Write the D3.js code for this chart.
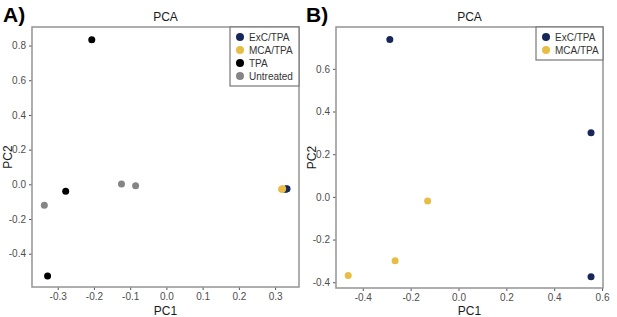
<!DOCTYPE html>
<html>
<head>
<meta charset="utf-8">
<script src="https://cdn.jsdelivr.net/npm/d3@7"></script>
<style>
  body { margin: 0; background: #fff; }
  svg { font-family: "Liberation Sans", Arial, sans-serif; }
</style>
</head>
<body>
<div id="chart"></div>
<script>
// panel A
const groupsA = ["ExC/TPA", "MCA/TPA", "TPA", "Untreated"]
const pc1A = [0.331, 0.333, 0.328, 0.319, 0.321, 0.318, -0.206, -0.278, -0.328, -0.337, -0.124, -0.085]
const pc2A = [-0.027, -0.025, -0.029, -0.027, -0.025, -0.029, 0.833, -0.040, -0.529, -0.121, 0.002, -0.008]
const grpA = ["ExC/TPA", "ExC/TPA", "ExC/TPA", "MCA/TPA", "MCA/TPA", "MCA/TPA", "TPA", "TPA", "TPA", "Untreated", "Untreated", "Untreated"]
const xTicksA = [-0.3, -0.2, -0.1, 0.0, 0.1, 0.2, 0.3]
const yTicksA = [-0.4, -0.2, 0.0, 0.2, 0.4, 0.6, 0.8]

// panel B
const groupsB = ["ExC/TPA", "MCA/TPA"]
const pc1B = [-0.287, 0.554, 0.554, -0.461, -0.265, -0.129]
const pc2B = [0.737, 0.300, -0.374, -0.369, -0.299, -0.019]
const grpB = ["ExC/TPA", "ExC/TPA", "ExC/TPA", "MCA/TPA", "MCA/TPA", "MCA/TPA"]
const xTicksB = [-0.4, -0.2, 0.0, 0.2, 0.4, 0.6]
const yTicksB = [-0.4, -0.2, 0.0, 0.2, 0.4, 0.6]

const color = d3.scaleOrdinal()
    .domain(["ExC/TPA", "MCA/TPA", "TPA", "Untreated"])
    .range(["#17275a", "#e8bd45", "#000000", "#858585"])

const svg = d3.select("#chart").append("svg")
    .attr("width", 617).attr("height", 317)

function panel(opt) {
    const x = d3.scaleLinear().domain(opt.xDomain).range([opt.left, opt.right])
    const y = d3.scaleLinear().domain(opt.yDomain).range([opt.bottom, opt.top])
    const g = svg.append("g")

    const fmt = d => d3.format(".1f")(d).replace("−", "-")
    const xAxis = g.append("g")
        .attr("transform", `translate(0,${opt.bottom})`)
        .call(d3.axisBottom(x).tickValues(opt.xTicks).tickFormat(fmt).tickSize(3).tickPadding(3))
    const yAxis = g.append("g")
        .attr("transform", `translate(${opt.left},0)`)
        .call(d3.axisLeft(y).tickValues(opt.yTicks).tickFormat(fmt).tickSize(3).tickPadding(3))
    for (const ax of [xAxis, yAxis]) {
        ax.select(".domain").remove()
        ax.selectAll("line").attr("stroke", "#555")
        ax.selectAll("text").attr("fill", "#4d4d4d").style("font-size", "10px")
    }

    g.append("rect")
        .attr("x", opt.left).attr("y", opt.top)
        .attr("width", opt.right - opt.left).attr("height", opt.bottom - opt.top)
        .attr("fill", "none").attr("stroke", "#9a9a9a").attr("stroke-width", 1.6)

    g.selectAll("circle.pt")
        .data(opt.pc1.map((v, i) => ({x: v, y: opt.pc2[i], g: opt.grp[i]})))
        .enter().append("circle")
        .attr("class", "pt")
        .attr("cx", d => x(d.x)).attr("cy", d => y(d.y))
        .attr("r", 3.5)
        .attr("fill", d => color(d.g))

    g.append("text")
        .attr("x", (opt.left + opt.right) / 2).attr("y", opt.top - 6)
        .attr("text-anchor", "middle").style("font-size", "12px").attr("fill", "#1a1a1a")
        .text("PCA")
    g.append("text")
        .attr("x", (opt.left + opt.right) / 2).attr("y", 315)
        .attr("text-anchor", "middle").style("font-size", "12px").attr("fill", "#1a1a1a")
        .text("PC1")
    g.append("text")
        .attr("transform", `translate(${opt.left - 24},${(opt.top + opt.bottom) / 2}) rotate(-90)`)
        .attr("text-anchor", "middle").attr("dy", "0.32em")
        .style("font-size", "12px").attr("fill", "#1a1a1a")
        .text("PC2")
    g.append("text")
        .attr("x", opt.tagX).attr("y", 22)
        .style("font-size", "21px").style("font-weight", "bold").attr("fill", "#000")
        .text(opt.tag)

    // legend
    const lg = g.append("g")
    lg.append("rect")
        .attr("x", opt.legX).attr("y", opt.top)
        .attr("width", opt.right - opt.legX).attr("height", opt.groups.length * 13 + 7)
        .attr("fill", "#fff").attr("stroke", "#777").attr("stroke-width", 1.2)
    const item = lg.selectAll("g.item").data(opt.groups).enter().append("g")
        .attr("class", "item")
        .attr("transform", (d, i) => `translate(${opt.legX + 10},${opt.top + 10 + i * 13})`)
    item.append("circle").attr("r", 4).attr("fill", d => color(d))
    item.append("text").attr("x", 9).attr("dy", "0.35em")
        .style("font-size", "10px").attr("fill", "#333").text(d => d)
}

panel({
    left: 32, right: 299, top: 27, bottom: 287,
    xDomain: [-0.371, 0.366], yDomain: [-0.592, 0.907],
    xTicks: xTicksA, yTicks: yTicksA,
    pc1: pc1A, pc2: pc2A, grp: grpA, groups: groupsA,
    legX: 230, tag: "A)", tagX: 3
})

panel({
    left: 336, right: 603, top: 27, bottom: 288,
    xDomain: [-0.512, 0.604], yDomain: [-0.427, 0.796],
    xTicks: xTicksB, yTicks: yTicksB,
    pc1: pc1B, pc2: pc2B, grp: grpB, groups: groupsB,
    legX: 536, tag: "B)", tagX: 306
})
</script>
</body>
</html>
